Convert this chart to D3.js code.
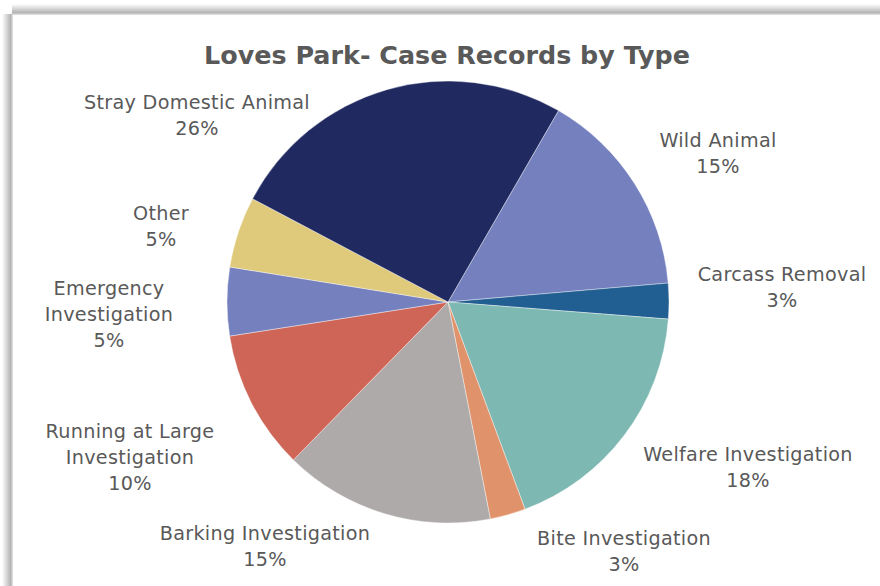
<!DOCTYPE html>
<html><head><meta charset="utf-8">
<script src="https://cdn.jsdelivr.net/npm/d3@7"></script>
<style>body{margin:0;background:#fff;overflow:hidden}</style>
</head><body>
<svg id="c" width="880" height="586"></svg>
<script>
const categories = ["Wild Animal","Carcass Removal","Welfare Investigation","Bite Investigation","Barking Investigation","Running at Large Investigation","Emergency Investigation","Other","Stray Domestic Animal"];
const values = [15.3,2.6,18.1,2.6,15.4,10.2,5.0,5.2,25.6];
const colors = ["#7580BF","#215E92","#7EB8B2","#E0926B","#AEAAA9","#CE6557","#7580BF","#DFC97B","#202A61"];
const labelLines = [["Wild Animal"],["Carcass Removal"],["Welfare Investigation"],["Bite Investigation"],["Barking Investigation"],["Running at Large","Investigation"],["Emergency","Investigation"],["Other"],["Stray Domestic Animal"]];
const labelPos = [[718,141],[782,275],[748,455],[624,539],[265,534],[130,432],[109,289],[161,214],[197,103]];
const title = "Loves Park- Case Records by Type";

const svg = d3.select("#c");
const defs = svg.append("defs");
const gv = defs.append("linearGradient").attr("id","gt").attr("x1",0).attr("y1",0).attr("x2",0).attr("y2",1);
gv.append("stop").attr("offset",0).attr("stop-color","#fff");
gv.append("stop").attr("offset",1).attr("stop-color","#a8a8a8");
const gh = defs.append("linearGradient").attr("id","gl").attr("x1",0).attr("y1",0).attr("x2",1).attr("y2",0);
gh.append("stop").attr("offset",0).attr("stop-color","#fff");
gh.append("stop").attr("offset",1).attr("stop-color","#a8a8a8");
svg.append("rect").attr("x",12).attr("y",4).attr("width",880).attr("height",10).attr("fill","url(#gt)");
svg.append("rect").attr("x",2).attr("y",14).attr("width",10).attr("height",600).attr("fill","url(#gl)");
svg.append("rect").attr("x",12).attr("y",14).attr("width",900).attr("height",600).attr("fill","#fff").attr("stroke","#d0d0d0").attr("stroke-width",1.5);

const total = d3.sum(values);
const cx = 448, cy = 302, r = 221;
const pie = d3.pie().sort(null).value(d=>d).startAngle(30*Math.PI/180).endAngle(390*Math.PI/180);
const arc = d3.arc().innerRadius(0).outerRadius(r);
const g = svg.append("g").attr("transform",`translate(${cx},${cy})`);
g.selectAll("path").data(pie(values)).join("path")
  .attr("d",arc).attr("fill",(d,i)=>colors[i]).attr("stroke","#fff").attr("stroke-width",0.4);

svg.append("text").attr("x",447).attr("y",64).attr("text-anchor","middle")
  .attr("font-family","'DejaVu Sans', sans-serif").attr("font-weight","bold").attr("font-size",25.4)
  .attr("fill","#595959").text(title);

const lab = svg.append("g").attr("font-family","'DejaVu Sans', sans-serif").attr("font-size",19.2).attr("letter-spacing",0.3).attr("fill","#595959").attr("text-anchor","middle");
categories.forEach((c,i)=>{
  const lines = labelLines[i].concat([Math.round(values[i]/total*100)+"%"]);
  const t = lab.append("text").attr("x",labelPos[i][0]).attr("y",labelPos[i][1]+6);
  lines.forEach((l,j)=>t.append("tspan").attr("x",labelPos[i][0]).attr("dy",j?26:0).text(l));
});
</script>
</body></html>
